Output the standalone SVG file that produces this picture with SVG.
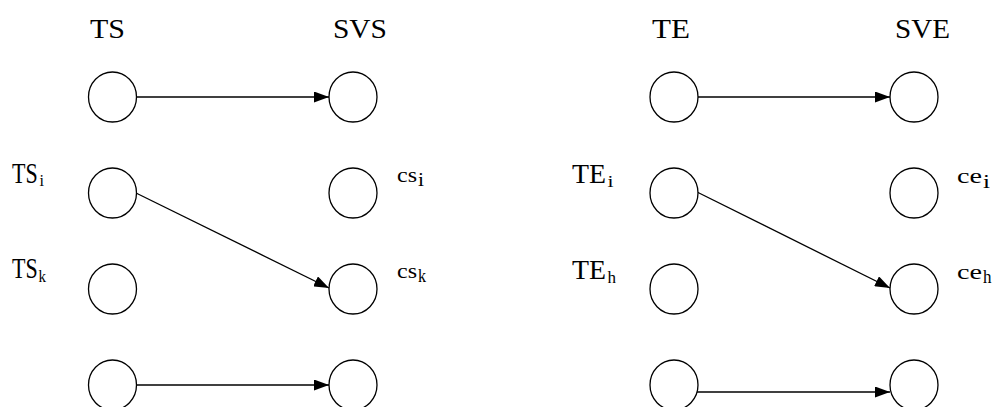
<svg xmlns="http://www.w3.org/2000/svg" width="998" height="407" viewBox="0 0 998 407">
<defs>
<style>
.node ellipse{fill:#fff;stroke:#000;stroke-width:1.3}
.mono{font-family:"Liberation Serif","Times New Roman",serif;fill:#000}
.serif{font-family:"Liberation Serif","Times New Roman",serif;fill:#000}
.edge{stroke:#000;stroke-width:1.3;fill:none;marker-end:url(#ah)}
</style>
<marker id="ah" viewBox="0 0 15 11" refX="15" refY="5.5" markerWidth="15" markerHeight="11" markerUnits="userSpaceOnUse" orient="auto">
<path d="M0,0 L15,5.5 L0,11 z" fill="#000"/>
</marker>
</defs>
<rect width="998" height="407" fill="#fff"/>
<g id="headers">
<text class="mono" x="90" y="38" font-size="28" textLength="35" lengthAdjust="spacingAndGlyphs">TS</text>
<text class="mono" x="333" y="38" font-size="28" textLength="54" lengthAdjust="spacingAndGlyphs">SVS</text>
<text class="mono" x="652" y="38" font-size="28" textLength="38" lengthAdjust="spacingAndGlyphs">TE</text>
<text class="mono" x="895" y="38" font-size="28" textLength="55" lengthAdjust="spacingAndGlyphs">SVE</text>
</g>
<g id="connectors">
<line class="edge" x1="137" y1="97" x2="329" y2="97"/>
<line class="edge" x1="136" y1="193" x2="329" y2="288"/>
<line class="edge" x1="137" y1="385" x2="329" y2="385"/>
<line class="edge" x1="698" y1="97" x2="890" y2="97"/>
<line class="edge" x1="697" y1="192" x2="890" y2="288"/>
<line class="edge" x1="697" y1="392" x2="890" y2="392"/>
</g>
<g id="n_ts1" class="node"><ellipse cx="112.5" cy="97" rx="24" ry="25"/></g>
<g id="n_svs1" class="node"><ellipse cx="353" cy="97" rx="24" ry="25"/></g>
<g id="n_tsi" class="node"><ellipse cx="112.5" cy="193" rx="24" ry="25"/>
<text class="serif" transform="translate(12,183) scale(1,1.38)" font-size="22">TS</text>
<text class="serif" x="39.5" y="186" font-size="17" textLength="4.5" lengthAdjust="spacingAndGlyphs">i</text></g>
<g id="n_csi" class="node"><ellipse cx="353" cy="193" rx="24" ry="25"/>
<text class="mono" x="397" y="182" font-size="20" textLength="20" lengthAdjust="spacingAndGlyphs">cs</text>
<text class="mono" x="418" y="186" font-size="18" textLength="6" lengthAdjust="spacingAndGlyphs">i</text></g>
<g id="n_tsk" class="node"><ellipse cx="112.5" cy="289" rx="24" ry="25"/>
<text class="serif" transform="translate(12,278) scale(1,1.38)" font-size="22">TS</text>
<text class="serif" x="38.5" y="282" font-size="17" textLength="7.5" lengthAdjust="spacingAndGlyphs">k</text></g>
<g id="n_csk" class="node"><ellipse cx="353" cy="289" rx="24" ry="25"/>
<text class="mono" x="397" y="278" font-size="20" textLength="20" lengthAdjust="spacingAndGlyphs">cs</text>
<text class="mono" x="418" y="282" font-size="18" textLength="8" lengthAdjust="spacingAndGlyphs">k</text></g>
<g id="n_ts4" class="node"><ellipse cx="112.5" cy="385" rx="24" ry="25"/></g>
<g id="n_svs4" class="node"><ellipse cx="353" cy="385" rx="24" ry="25"/></g>
<g id="n_te1" class="node"><ellipse cx="674" cy="97" rx="24" ry="25"/></g>
<g id="n_sve1" class="node"><ellipse cx="914" cy="97" rx="24" ry="25"/></g>
<g id="n_tei" class="node"><ellipse cx="674" cy="193" rx="24" ry="25"/>
<text class="serif" x="572" y="183" font-size="28" textLength="34" lengthAdjust="spacingAndGlyphs">TE</text>
<text class="serif" x="607.5" y="187" font-size="17" textLength="6" lengthAdjust="spacingAndGlyphs">i</text></g>
<g id="n_cei" class="node"><ellipse cx="914" cy="193" rx="24" ry="25"/>
<text class="mono" x="957" y="183" font-size="20" textLength="25" lengthAdjust="spacingAndGlyphs">ce</text>
<text class="mono" x="983" y="188" font-size="18" textLength="7" lengthAdjust="spacingAndGlyphs">i</text></g>
<g id="n_teh" class="node"><ellipse cx="674" cy="289" rx="24" ry="25"/>
<text class="serif" x="572" y="279" font-size="28" textLength="34" lengthAdjust="spacingAndGlyphs">TE</text>
<text class="serif" x="607.5" y="283" font-size="17" textLength="8.5" lengthAdjust="spacingAndGlyphs">h</text></g>
<g id="n_ceh" class="node"><ellipse cx="914" cy="289" rx="24" ry="25"/>
<text class="mono" x="957" y="279" font-size="20" textLength="25" lengthAdjust="spacingAndGlyphs">ce</text>
<text class="mono" x="983" y="283" font-size="18" textLength="8.5" lengthAdjust="spacingAndGlyphs">h</text></g>
<g id="n_te4" class="node"><ellipse cx="674" cy="385" rx="24" ry="25"/></g>
<g id="n_sve4" class="node"><ellipse cx="914" cy="385" rx="24" ry="25"/></g>
</svg>
